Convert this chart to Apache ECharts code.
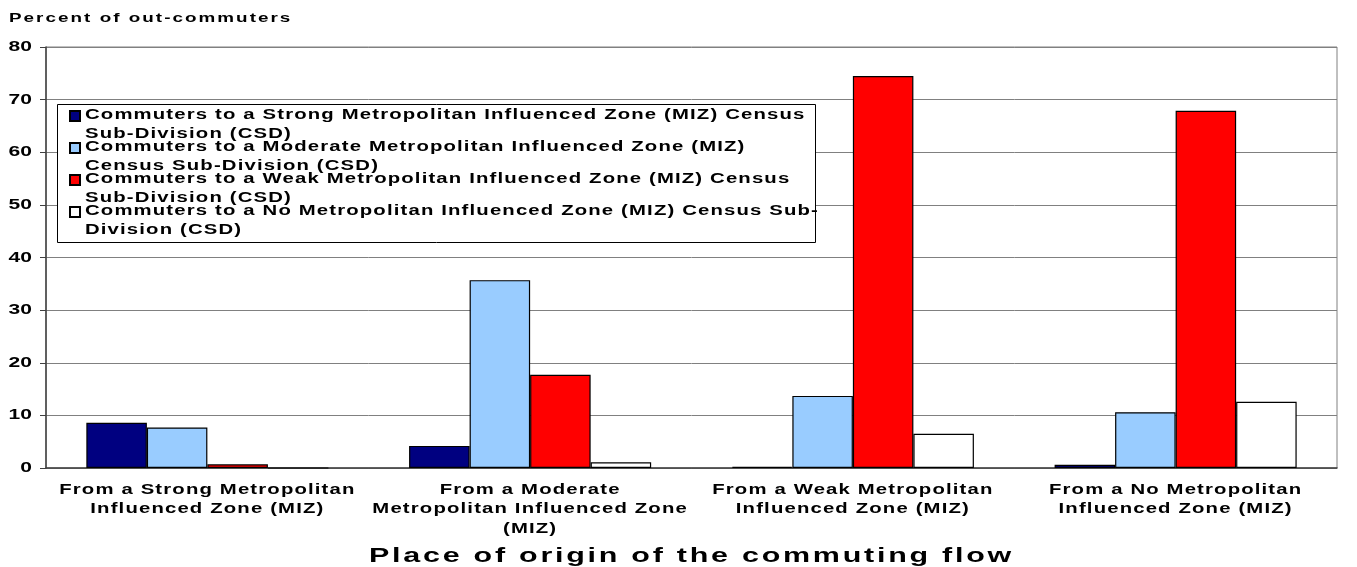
<!DOCTYPE html>
<html>
<head>
<meta charset="utf-8">
<script src="https://cdn.jsdelivr.net/npm/echarts@6/dist/echarts.min.js"></script>
<style>
  html, body { margin: 0; padding: 0; background: #fff; }
  #chart { width: 1357px; height: 567px; }
</style>
</head>
<body>
<div id="chart"></div>
<script>
const categories = [
  'From a Strong Metropolitan\nInfluenced Zone (MIZ)',
  'From a Moderate\nMetropolitan Influenced Zone\n(MIZ)',
  'From a Weak Metropolitan\nInfluenced Zone (MIZ)',
  'From a No Metropolitan\nInfluenced Zone (MIZ)'
]
const seriesNames = [
  'Commuters to a Strong Metropolitan Influenced Zone (MIZ) Census\nSub-Division (CSD)',
  'Commuters to a Moderate Metropolitan Influenced Zone (MIZ)\nCensus Sub-Division (CSD)',
  'Commuters to a Weak Metropolitan Influenced Zone (MIZ) Census\nSub-Division (CSD)',
  'Commuters to a No Metropolitan Influenced Zone (MIZ) Census Sub-\nDivision (CSD)'
]
const strongValues = [8.6, 4.2, 0.2, 0.6]
const moderateValues = [7.7, 35.7, 13.7, 10.6]
const weakValues = [0.7, 17.7, 74.5, 67.9]
const noValues = [0, 1.1, 6.5, 12.6]
const yTicks = [0, 10, 20, 30, 40, 50, 60, 70, 80]

const colors = ['#000080', '#99ccff', '#ff0000', '#ffffff']
const font = 'Arial, "Liberation Sans", sans-serif'

// the original text is drawn stretched sideways and loosely spaced.
// canvas has no stretch, so widen the glyphs by hand: letter spacing set with the font,
// measureText and fillText scaled in x (both patched so layout and drawing agree)
const textStretch = 1.45
const spacingBySize = {13: 1.4, 14: 0.8, 14.5: 0, 21: 1.9}
const proto = CanvasRenderingContext2D.prototype
const fontDesc = Object.getOwnPropertyDescriptor(proto, 'font')
Object.defineProperty(proto, 'font', {
  configurable: true,
  get() {
    return fontDesc.get.call(this)
  },
  set(v) {
    fontDesc.set.call(this, v)
    const m = /(\d+(?:\.\d+)?)px/.exec(v)
    if (m && 'letterSpacing' in this) {
      const sp = spacingBySize[parseFloat(m[1])]
      this.letterSpacing = (sp !== undefined ? sp : 0) + 'px'
    }
  }
})
const origMeasure = proto.measureText
proto.measureText = function (text) {
  const r = origMeasure.call(this, text)
  // zrender takes the default line height from the width of '国': leave that one alone
  const sx = text === '国' ? 1 : textStretch
  return {
    width: r.width * sx,
    actualBoundingBoxAscent: r.actualBoundingBoxAscent,
    actualBoundingBoxDescent: r.actualBoundingBoxDescent,
    fontBoundingBoxAscent: r.fontBoundingBoxAscent,
    fontBoundingBoxDescent: r.fontBoundingBoxDescent
  }
}
const origFill = proto.fillText
proto.fillText = function (text, x, y) {
  // draw left-aligned in the stretched space, offsetting by hand for the other alignments
  const w = origMeasure.call(this, text).width
  const align = this.textAlign
  let dx = 0
  if (align === 'right' || align === 'end') dx = -w
  else if (align === 'center') dx = -w / 2
  this.save()
  this.textAlign = 'left'
  this.translate(x, y)
  this.scale(textStretch, 1)
  origFill.call(this, text, dx, 0)
  this.restore()
}

const chart = echarts.init(document.getElementById('chart'))

// square on the first text line of each two-line legend entry
const legendIcon = 'path://M0,0L10,0L10,10L0,10Z M0,28L0,28'

function makeSeries(name, data, color) {
  return {
    name: name,
    type: 'bar',
    data: data,
    barGap: '0%',
    barCategoryGap: '25%',
    itemStyle: {color: color, borderColor: '#000', borderWidth: 1.2},
    emphasis: {disabled: true}
  }
}

const option = {
  animation: false,
  title: {
    text: 'Percent of out-commuters',
    left: 9,
    top: 11,
    padding: 0,
    textStyle: {fontFamily: font, fontSize: 13, fontWeight: 'bold', color: '#000'}
  },
  // legend frame: fixed size, the longest entry runs past it as in the original
  graphic: [{
    type: 'rect',
    z: 3,
    silent: true,
    shape: {x: 57.5, y: 104.5, width: 758, height: 138},
    style: {fill: '#fff', stroke: '#000', lineWidth: 1}
  }],
  legend: {
    orient: 'vertical',
    left: 57,
    top: 104,
    padding: [2, 0, 3, 12],
    itemGap: -6,
    itemWidth: 10,
    itemHeight: 28,
    icon: legendIcon,
    align: 'left',
    textStyle: {
      fontFamily: font,
      fontSize: 14,
      fontWeight: 'bold',
      color: '#000',
      lineHeight: 19
    },
    data: seriesNames
  },
  grid: {
    left: 46,
    right: 20,
    top: 47,
    bottom: 99,
    outerBoundsMode: 'none',
    show: true,
    borderColor: '#808080',
    borderWidth: 1
  },
  xAxis: {
    type: 'category',
    data: categories,
    name: 'Place of origin of the commuting flow',
    nameLocation: 'middle',
    nameGap: 77,
    nameTextStyle: {fontFamily: font, fontSize: 21, fontWeight: 'bold', color: '#000'},
    axisLine: {lineStyle: {color: '#404040', width: 1.5}},
    axisTick: {show: false},
    axisLabel: {
      interval: 0,
      margin: 12,
      fontFamily: font,
      fontSize: 14,
      fontWeight: 'bold',
      color: '#000',
      lineHeight: 19.5
    }
  },
  yAxis: {
    type: 'value',
    min: 0,
    max: yTicks[yTicks.length - 1],
    interval: yTicks[1] - yTicks[0],
    axisLine: {show: true, lineStyle: {color: '#404040', width: 1.5}},
    axisTick: {show: true, length: 6, lineStyle: {color: '#404040'}},
    splitLine: {lineStyle: {color: '#808080', width: 1}},
    axisLabel: {fontFamily: font, fontSize: 14.5, fontWeight: 'bold', color: '#000', margin: 14}
  },
  series: [
    makeSeries(seriesNames[0], strongValues, colors[0]),
    makeSeries(seriesNames[1], moderateValues, colors[1]),
    makeSeries(seriesNames[2], weakValues, colors[2]),
    makeSeries(seriesNames[3], noValues, colors[3])
  ]
}

chart.setOption(option)
</script>
</body>
</html>
